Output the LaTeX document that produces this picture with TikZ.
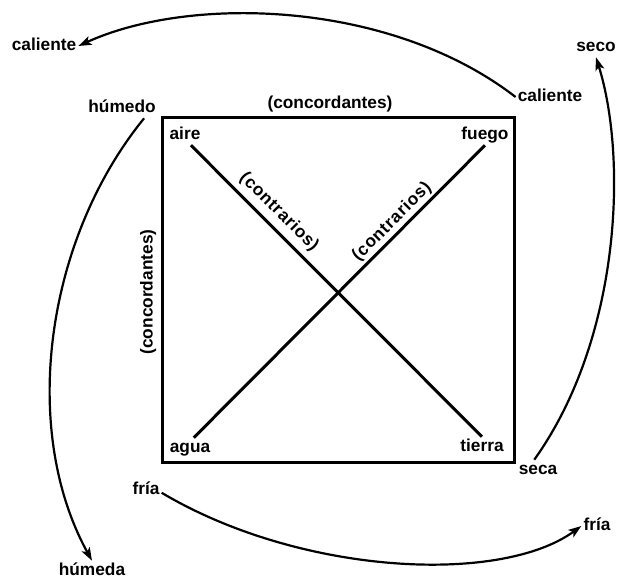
\documentclass[tikz,border=0pt]{standalone}
\usepackage{fontspec}
\setmainfont{Liberation Sans}
\usetikzlibrary{arrows.meta}

\tikzset{
  lbl/.style={font=\bfseries\fontsize{17.3}{20}\selectfont, inner sep=2pt,
              text height=12.6pt, text depth=3.6pt},
  rel/.style={font=\bfseries\fontsize{17.3}{20}\selectfont\addfontfeature{LetterSpace=4},
              inner sep=1pt},
  bar/.style={line width=3pt},
  turn/.style={line width=2.2pt, -{Stealth[length=13pt,width=9pt,inset=3pt]}}
}

\begin{document}
\begin{tikzpicture}[x=1pt, y=-1pt]
        \useasboundingbox (0,0) rectangle (618,580);                         %
        \draw [bar]  (162,118) rectangle (514,462);                          %square
        \node [lbl] (aire)   at (185,135) {aire};                            %
        \node [lbl] (fuego)  at (485,135) {fuego};                           %
        \node [lbl] (agua)   at (190,448) {agua};                            %
        \node [lbl] (tierra) at (482,447) {tierra};                          %
        \draw [bar]  (aire.-60)   -- (tierra.north);                         %
        \draw [bar]  (fuego.south) -- (agua.70);                             %
        \node [lbl] (contop)  at (330,104)              {(concordantes)};    %
        \node [lbl, rotate=90] (conleft) at (148,292)   {(concordantes)};    %
        \node [rel, rotate=-45] (contra) at (279,212)   {(contrarios)};      %
        \node [rel, rotate=45]  (contrb) at (392,222)   {(contrarios)};      %

        \node [lbl] (calienteL) at (44,46)   {caliente};                     %
        \node [lbl] (calienteR) at (550,97)  {caliente};                     %
        \node [lbl] (humedo)    at (122,108) {húmedo};                       %
        \node [lbl] (humeda)    at (92,571)  {húmeda};                       %
        \node [lbl] (seco)      at (596,47)  {seco};                         %
        \node [lbl] (seca)      at (538,470) {seca};                         %
        \node [lbl] (friaL)     at (146,490) {fría};                         %
        \node [lbl] (friaR)     at (597,526) {fría};                         %

        \draw [turn] (calienteR.west) .. controls (390,0)   and (190,-5)  .. (calienteL.east);  %top
        \draw [turn] (humedo.-25)     .. controls (45,240)  and (20,430)  .. (humeda.north);    %left
        \draw [turn] (seca.110)       .. controls (620,340) and (628,160) .. (seco.south);      %right
        \draw [turn] (friaL.-10)      .. controls (300,575) and (500,585) .. (friaR.west);      %bottom
\end{tikzpicture}
\end{document}
